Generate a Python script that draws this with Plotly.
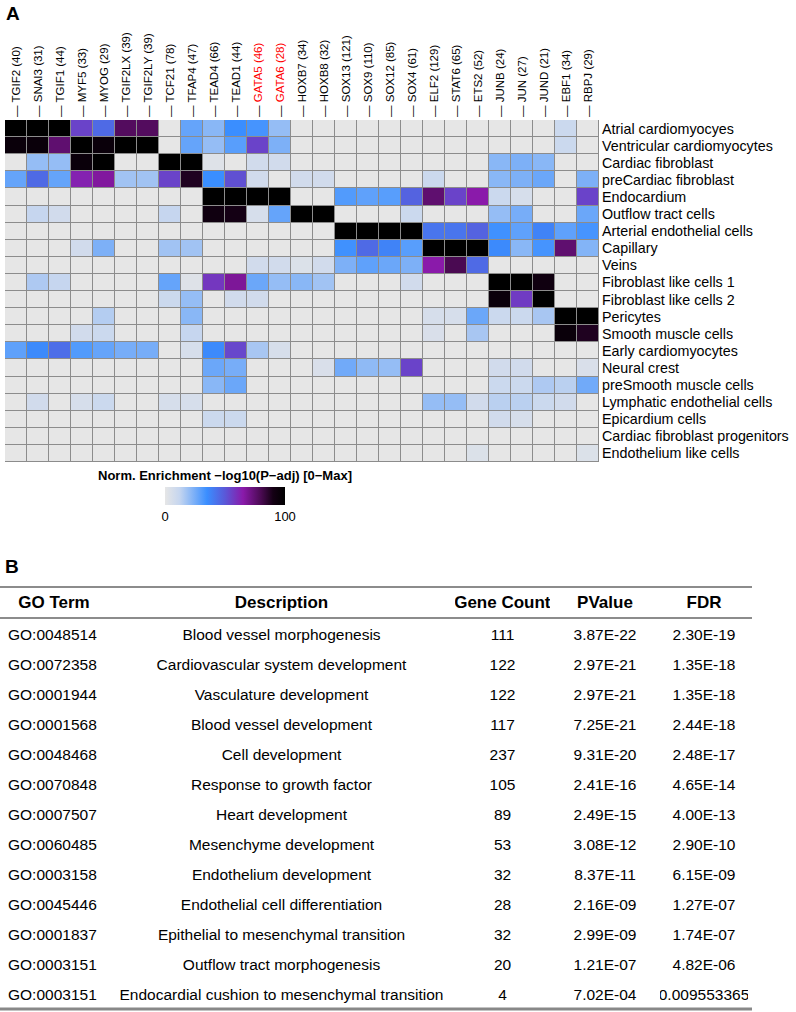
import plotly.graph_objects as go

W, H = 796, 1012
FONT = "Liberation Sans, Arial, sans-serif"

# ---------------- Panel A data ----------------
tf_labels = ["TGIF2 (40)", "SNAI3 (31)", "TGIF1 (44)", "MYF5 (33)", "MYOG (29)",
             "TGIF2LX (39)", "TGIF2LY (39)", "TCF21 (78)", "TFAP4 (47)", "TEAD4 (66)",
             "TEAD1 (44)", "GATA5 (46)", "GATA6 (28)", "HOXB7 (34)", "HOXB8 (32)",
             "SOX13 (121)", "SOX9 (110)", "SOX12 (85)", "SOX4 (61)", "ELF2 (129)",
             "STAT6 (65)", "ETS2 (52)", "JUNB (24)", "JUN (27)", "JUND (21)",
             "EBF1 (34)", "RBPJ (29)"]
red_tfs = ["GATA5 (46)", "GATA6 (28)"]

cell_types = ["Atrial cardiomyocyes", "Ventricular cardiomyocytes", "Cardiac fibroblast",
              "preCardiac fibroblast", "Endocardium", "Outflow tract cells",
              "Arterial endothelial cells", "Capillary", "Veins", "Fibroblast like cells 1",
              "Fibroblast like cells 2", "Pericytes", "Smooth muscle cells",
              "Early cardiomyocytes", "Neural crest", "preSmooth muscle cells",
              "Lymphatic endothelial cells", "Epicardium cells",
              "Cardiac fibroblast progenitors", "Endothelium like cells"]

enrichment = [
    [100, 100, 100, 55, 45, 78, 78, 0, 28, 22, 35, 33, 20, 0, 0, 0, 0, 0, 0, 0, 0, 0, 0, 0, 0, 10, 0],
    [95, 95, 75, 100, 95, 100, 100, 0, 28, 20, 30, 55, 24, 0, 0, 0, 0, 0, 0, 0, 0, 0, 0, 0, 0, 10, 0],
    [0, 20, 20, 95, 100, 0, 0, 100, 100, 3, 0, 8, 8, 0, 0, 0, 0, 0, 0, 0, 0, 0, 22, 24, 22, 0, 0],
    [28, 45, 28, 63, 67, 18, 18, 55, 88, 35, 52, 8, 0, 8, 8, 0, 0, 0, 0, 10, 0, 0, 22, 24, 27, 0, 24],
    [0, 0, 0, 0, 0, 0, 0, 0, 0, 100, 100, 100, 100, 0, 0, 31, 29, 30, 47, 75, 55, 65, 10, 6, 0, 0, 55],
    [0, 12, 8, 0, 0, 0, 0, 12, 0, 92, 90, 6, 28, 100, 100, 0, 0, 0, 10, 0, 0, 0, 20, 25, 0, 0, 27],
    [0, 0, 0, 0, 0, 0, 0, 0, 0, 0, 0, 0, 0, 0, 0, 100, 100, 100, 100, 42, 42, 47, 34, 29, 38, 29, 33],
    [0, 0, 0, 8, 24, 0, 0, 18, 18, 0, 0, 0, 0, 0, 0, 34, 45, 38, 30, 100, 100, 100, 36, 22, 33, 75, 23],
    [0, 0, 0, 0, 0, 0, 0, 0, 0, 0, 0, 8, 8, 4, 8, 24, 29, 27, 24, 65, 80, 45, 0, 0, 0, 0, 0],
    [0, 16, 12, 0, 0, 0, 0, 28, 3, 58, 68, 27, 20, 22, 18, 0, 0, 0, 8, 0, 0, 0, 100, 100, 92, 0, 0],
    [0, 0, 0, 0, 0, 0, 0, 10, 20, 0, 8, 8, 0, 0, 0, 0, 0, 0, 0, 0, 0, 0, 95, 57, 100, 0, 0],
    [0, 0, 0, 0, 15, 0, 0, 0, 22, 0, 0, 0, 0, 0, 0, 0, 0, 0, 0, 6, 6, 27, 10, 10, 17, 100, 100],
    [0, 0, 0, 8, 10, 0, 0, 0, 12, 0, 0, 0, 0, 0, 0, 0, 0, 0, 0, 5, 0, 17, 0, 0, 0, 95, 88],
    [29, 36, 44, 31, 28, 25, 25, 0, 6, 36, 54, 17, 6, 0, 0, 0, 0, 0, 0, 0, 0, 0, 0, 0, 0, 0, 0],
    [0, 0, 0, 0, 0, 0, 0, 0, 0, 27, 25, 0, 0, 0, 5, 26, 21, 20, 55, 0, 0, 0, 8, 8, 0, 0, 5],
    [0, 0, 0, 0, 0, 0, 0, 0, 0, 22, 27, 0, 0, 0, 0, 0, 0, 0, 0, 0, 0, 0, 10, 10, 16, 14, 26],
    [0, 8, 0, 6, 10, 0, 0, 6, 6, 0, 0, 0, 0, 0, 0, 0, 0, 0, 0, 20, 20, 8, 14, 14, 10, 8, 0],
    [0, 0, 0, 0, 0, 0, 0, 0, 0, 10, 10, 0, 0, 0, 0, 0, 0, 0, 0, 0, 0, 0, 8, 6, 0, 0, 0],
    [0, 0, 0, 0, 0, 0, 0, 0, 0, 0, 0, 0, 0, 0, 0, 0, 0, 0, 0, 0, 0, 0, 0, 0, 0, 0, 0],
    [0, 0, 0, 0, 0, 0, 0, 0, 0, 0, 0, 0, 0, 0, 0, 0, 0, 0, 0, 0, 0, 4, 0, 0, 0, 0, 4],
]

colorbar_ticks = [0, 100]

# ---------------- Panel B data ----------------
go_terms = ["GO:0048514", "GO:0072358", "GO:0001944", "GO:0001568", "GO:0048468",
            "GO:0070848", "GO:0007507", "GO:0060485", "GO:0003158", "GO:0045446",
            "GO:0001837", "GO:0003151", "GO:0003151"]
descriptions = ["Blood vessel morphogenesis", "Cardiovascular system development",
                "Vasculature development", "Blood vessel development", "Cell development",
                "Response to growth factor", "Heart development", "Mesenchyme development",
                "Endothelium development", "Endothelial cell differentiation",
                "Epithelial to mesenchymal transition", "Outflow tract morphogenesis",
                "Endocardial cushion to mesenchymal transition"]
gene_counts = [111, 122, 122, 117, 237, 105, 89, 53, 32, 28, 32, 20, 4]
pvalues = ["3.87E-22", "2.97E-21", "2.97E-21", "7.25E-21", "9.31E-20", "2.41E-16",
           "2.49E-15", "3.08E-12", "8.37E-11", "2.16E-09", "2.99E-09", "1.21E-07", "7.02E-04"]
fdrs = ["2.30E-19", "1.35E-18", "1.35E-18", "2.44E-18", "2.48E-17", "4.65E-14",
        "4.00E-13", "2.90E-10", "6.15E-09", "1.27E-07", "1.74E-07", "4.82E-06", "0.009553365"]
table_headers = ["GO Term", "Description", "Gene Count", "PValue", "FDR"]


def px_x(x):
    return x / W


def px_y(y):
    return 1 - y / H


colorscale = [
    [0.0, "#e6e6e6"],
    [0.12, "#c6d6ef"],
    [0.35, "#3a8eff"],
    [0.5, "#5a58d8"],
    [0.65, "#8a1aaa"],
    [0.8, "#4a0a52"],
    [0.9, "#140014"],
    [1.0, "#000000"],
]

tick_text = []
for lbl in tf_labels:
    if lbl in red_tfs:
        tick_text.append("— <span style='color:#ff0000'>" + lbl + "</span>")
    else:
        tick_text.append("— " + lbl)

fig = go.Figure()

fig.add_trace(go.Heatmap(
    z=enrichment,
    x=list(range(len(tf_labels))),
    y=list(range(len(cell_types))),
    zmin=0, zmax=100,
    colorscale=colorscale,
    xgap=1, ygap=1,
    hoverinfo="skip",
    colorbar=dict(
        orientation="h",
        x=px_x(165), xanchor="left",
        y=px_y(472), yanchor="top",
        len=120, lenmode="pixels",
        thickness=18, thicknessmode="pixels",
        title=dict(text="<b>Norm. Enrichment −log10(P−adj) [0−Max]</b>", side="top",
                   font=dict(size=13, color="black", family=FONT)),
        tickvals=colorbar_ticks, ticktext=[str(v) for v in colorbar_ticks],
        ticks="inside", tickcolor="white", ticklen=18, tickwidth=1.5,
        tickfont=dict(size=13, color="black", family=FONT),
        outlinewidth=0, xpad=0, ypad=0,
    ),
))

header_text = ["<b>" + h.replace(" ", "\u00a0") + "</b>" for h in table_headers]

fig.add_trace(go.Table(
    domain=dict(x=[0, px_x(748)], y=[0, px_y(585)]),
    columnwidth=[108, 347, 95, 110, 88],
    header=dict(
        values=header_text,
        height=31, align="center",
        fill_color="white", line=dict(color="white", width=0),
        font=dict(size=17, color="black", family=FONT),
    ),
    cells=dict(
        values=[go_terms, descriptions, gene_counts, pvalues, fdrs],
        height=30, align=["left", "center", "center", "center", "center"],
        fill_color="white", line=dict(color="white", width=0),
        font=dict(size=15.5, color="black", family=FONT),
    ),
))

shapes = [
    dict(type="line", xref="paper", yref="paper", x0=0, x1=px_x(752), y0=px_y(587), y1=px_y(587),
         line=dict(color="#666666", width=1.5)),
    dict(type="line", xref="paper", yref="paper", x0=0, x1=px_x(752), y0=px_y(618), y1=px_y(618),
         line=dict(color="#666666", width=1.5)),
    dict(type="line", xref="paper", yref="paper", x0=0, x1=px_x(752), y0=px_y(1009), y1=px_y(1009),
         line=dict(color="#888888", width=3)),
]

annotations = [
    dict(text="<b>A</b>", x=px_x(4), y=px_y(13), xref="paper", yref="paper",
         xanchor="left", yanchor="middle", showarrow=False,
         font=dict(size=19, color="black", family=FONT)),
    dict(text="<b>B</b>", x=px_x(3), y=px_y(566), xref="paper", yref="paper",
         xanchor="left", yanchor="middle", showarrow=False,
         font=dict(size=19, color="black", family=FONT)),
]

fig.update_layout(
    width=W, height=H,
    margin=dict(l=0, r=0, t=0, b=0),
    paper_bgcolor="white",
    plot_bgcolor="#8c8c8c",
    font=dict(family=FONT, color="black"),
    shapes=shapes,
    annotations=annotations,
    xaxis=dict(
        domain=[px_x(5), px_x(599)],
        side="top", range=[-0.5, len(tf_labels) - 0.5],
        tickvals=list(range(len(tf_labels))), ticktext=tick_text,
        tickangle=-90, ticks="", ticklabelstandoff=2,
        tickfont=dict(size=11.5, color="black", family=FONT),
        showgrid=False, zeroline=False, showline=False,
    ),
    yaxis=dict(
        domain=[px_y(462), px_y(120)],
        side="right", range=[len(cell_types) - 0.5, -0.5],
        tickvals=list(range(len(cell_types))), ticktext=cell_types,
        ticks="", ticklabelstandoff=2,
        tickfont=dict(size=14.3, color="black", family=FONT),
        showgrid=False, zeroline=False, showline=False,
    ),
)

fig.write_html("out.html",
               config={"displayModeBar": False},
               post_script="document.body.style.margin='0';document.body.style.padding='0';")
